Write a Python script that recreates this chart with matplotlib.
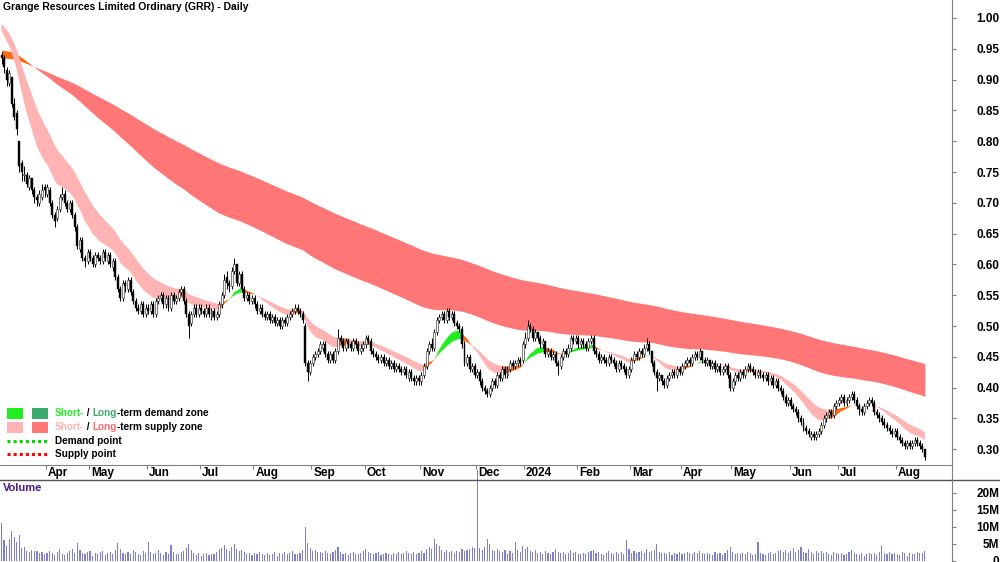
import numpy as np
import pandas as pd
import matplotlib
matplotlib.use("Agg")
import matplotlib.pyplot as plt
from matplotlib.lines import Line2D
from matplotlib.patches import Rectangle

plt.rcParams['font.family'] = ['Liberation Sans', 'DejaVu Sans']

# ---- data (daily bars, Mar 2023 - Aug 2024) ----
start_date = "2023-03-06"
asx_holidays = ["2023-04-07", "2023-04-10", "2023-04-25", "2023-06-12",
                "2023-12-25", "2023-12-26", "2024-01-01", "2024-01-26",
                "2024-03-29", "2024-04-01", "2024-04-25", "2024-06-10"]

opens = [
    0.94, 0.935, 0.915, 0.895, 0.905, 0.86, 0.845, 0.80, 0.765, 0.745, 0.745, 0.725, 0.74, 0.72, 0.71, 0.70, 0.71, 0.725,
    0.715, 0.72, 0.70, 0.68, 0.675, 0.69, 0.71, 0.715, 0.70, 0.69, 0.70, 0.68, 0.66, 0.625, 0.64, 0.61, 0.605, 0.62, 0.61, 0.60,
    0.615, 0.61, 0.605, 0.62, 0.605, 0.615, 0.595, 0.605, 0.58, 0.56, 0.545, 0.57, 0.56, 0.575, 0.555, 0.54,
    0.53, 0.525, 0.535, 0.52, 0.53, 0.525, 0.535, 0.52, 0.54, 0.545, 0.55, 0.535, 0.545, 0.53, 0.55, 0.54, 0.545, 0.555,
    0.56, 0.54, 0.52, 0.505, 0.52, 0.53, 0.52, 0.53, 0.525, 0.52, 0.53, 0.515, 0.525, 0.515, 0.52, 0.535, 0.55, 0.58,
    0.57, 0.565, 0.59, 0.60, 0.57, 0.585, 0.56, 0.545, 0.55, 0.54, 0.545, 0.535, 0.525, 0.53, 0.52, 0.515, 0.52, 0.51,
    0.515, 0.505, 0.51, 0.50, 0.51, 0.505, 0.515, 0.52, 0.525, 0.53, 0.525, 0.52, 0.50, 0.44, 0.425, 0.44, 0.45, 0.455, 0.46,
    0.465, 0.47, 0.455, 0.445, 0.455, 0.445, 0.46, 0.48, 0.475, 0.465, 0.475, 0.47, 0.465, 0.475, 0.47, 0.46, 0.465, 0.47,
    0.48, 0.475, 0.46, 0.455, 0.45, 0.445, 0.45, 0.44, 0.445, 0.435, 0.44, 0.43, 0.435, 0.43, 0.425, 0.43, 0.415, 0.425,
    0.415, 0.41, 0.415, 0.41, 0.42, 0.435, 0.46, 0.47, 0.465, 0.49, 0.51, 0.515, 0.52, 0.51, 0.525, 0.515, 0.52, 0.505,
    0.50, 0.495, 0.47, 0.44, 0.45, 0.43, 0.435, 0.42, 0.425, 0.41, 0.40, 0.395, 0.39, 0.40, 0.41, 0.405, 0.42, 0.415, 0.43,
    0.42, 0.43, 0.44, 0.435, 0.44, 0.445, 0.445, 0.47, 0.48, 0.50, 0.495, 0.48, 0.49, 0.48, 0.47, 0.475, 0.455, 0.46,
    0.45, 0.455, 0.44, 0.435, 0.45, 0.46, 0.455, 0.465, 0.48, 0.475, 0.48, 0.47, 0.475, 0.47, 0.465, 0.475, 0.48, 0.46,
    0.455, 0.445, 0.45, 0.445, 0.44, 0.45, 0.445, 0.44, 0.43, 0.44, 0.435, 0.43, 0.42, 0.43, 0.445, 0.455, 0.45, 0.46,
    0.455, 0.465, 0.47, 0.46, 0.44, 0.425, 0.415, 0.42, 0.41, 0.405, 0.415, 0.42, 0.425, 0.42, 0.43, 0.425, 0.435, 0.44, 0.445,
    0.44, 0.45, 0.455, 0.45, 0.46, 0.445, 0.44, 0.445, 0.435, 0.44, 0.43, 0.435, 0.425, 0.43, 0.435, 0.42, 0.40, 0.41,
    0.42, 0.415, 0.425, 0.42, 0.43, 0.435, 0.43, 0.425, 0.42, 0.425, 0.42, 0.415, 0.42, 0.41, 0.415, 0.405, 0.41, 0.40,
    0.395, 0.385, 0.375, 0.38, 0.37, 0.365, 0.36, 0.35, 0.345, 0.335, 0.33, 0.32, 0.325, 0.32, 0.325, 0.33, 0.34, 0.35,
    0.355, 0.36, 0.355, 0.37, 0.375, 0.38, 0.385, 0.375, 0.38, 0.385, 0.39, 0.38, 0.37, 0.365, 0.36, 0.37, 0.375, 0.38,
    0.375, 0.36, 0.355, 0.35, 0.345, 0.34, 0.335, 0.33, 0.325, 0.33, 0.32, 0.315, 0.31, 0.305, 0.31, 0.305, 0.31, 0.315,
    0.31, 0.305, 0.30,
]
highs = [
    0.945, 0.94, 0.92, 0.915, 0.905, 0.87, 0.85, 0.80, 0.77, 0.76, 0.75, 0.745, 0.74, 0.725, 0.715, 0.72, 0.73, 0.73,
    0.73, 0.725, 0.705, 0.685, 0.695, 0.715, 0.725, 0.72, 0.705, 0.705, 0.705, 0.685, 0.665, 0.645, 0.645, 0.615, 0.625, 0.625,
    0.615, 0.62, 0.62, 0.615, 0.625, 0.625, 0.62, 0.62, 0.61, 0.61, 0.585, 0.565, 0.575, 0.575, 0.58, 0.58, 0.56, 0.545,
    0.535, 0.54, 0.54, 0.535, 0.535, 0.54, 0.54, 0.545, 0.55, 0.555, 0.555, 0.55, 0.55, 0.555, 0.555, 0.55, 0.56, 0.565,
    0.565, 0.545, 0.525, 0.525, 0.535, 0.535, 0.535, 0.535, 0.53, 0.535, 0.535, 0.53, 0.53, 0.525, 0.54, 0.555, 0.585, 0.59,
    0.575, 0.595, 0.61, 0.60, 0.59, 0.59, 0.565, 0.555, 0.555, 0.55, 0.55, 0.54, 0.535, 0.535, 0.525, 0.525, 0.525, 0.52,
    0.52, 0.515, 0.515, 0.515, 0.515, 0.52, 0.525, 0.53, 0.535, 0.535, 0.53, 0.525, 0.505, 0.445, 0.445, 0.455, 0.46, 0.465, 0.475,
    0.475, 0.475, 0.46, 0.46, 0.46, 0.465, 0.495, 0.485, 0.48, 0.48, 0.48, 0.475, 0.48, 0.48, 0.475, 0.47, 0.475, 0.485,
    0.485, 0.48, 0.465, 0.46, 0.455, 0.455, 0.455, 0.45, 0.45, 0.445, 0.445, 0.44, 0.44, 0.435, 0.435, 0.435, 0.43, 0.43,
    0.42, 0.42, 0.42, 0.425, 0.44, 0.465, 0.475, 0.48, 0.495, 0.515, 0.52, 0.525, 0.525, 0.53, 0.53, 0.525, 0.525, 0.51,
    0.505, 0.50, 0.475, 0.455, 0.455, 0.44, 0.44, 0.43, 0.43, 0.415, 0.405, 0.40, 0.405, 0.415, 0.415, 0.425, 0.425, 0.435, 0.435,
    0.435, 0.445, 0.445, 0.445, 0.45, 0.45, 0.475, 0.49, 0.51, 0.505, 0.50, 0.495, 0.49, 0.485, 0.48, 0.475, 0.465, 0.465,
    0.46, 0.46, 0.445, 0.455, 0.465, 0.465, 0.47, 0.485, 0.485, 0.485, 0.485, 0.48, 0.48, 0.475, 0.48, 0.485, 0.485, 0.465,
    0.46, 0.455, 0.455, 0.45, 0.455, 0.455, 0.45, 0.445, 0.445, 0.445, 0.44, 0.435, 0.435, 0.45, 0.46, 0.46, 0.465, 0.465,
    0.47, 0.48, 0.475, 0.46, 0.445, 0.43, 0.425, 0.42, 0.415, 0.42, 0.425, 0.43, 0.43, 0.435, 0.435, 0.44, 0.445, 0.45, 0.45,
    0.455, 0.46, 0.46, 0.465, 0.46, 0.45, 0.45, 0.445, 0.445, 0.445, 0.44, 0.44, 0.435, 0.44, 0.44, 0.425, 0.415, 0.425,
    0.425, 0.43, 0.43, 0.435, 0.44, 0.44, 0.435, 0.43, 0.43, 0.43, 0.425, 0.425, 0.425, 0.42, 0.42, 0.415, 0.415, 0.405,
    0.40, 0.39, 0.385, 0.385, 0.375, 0.37, 0.365, 0.355, 0.35, 0.34, 0.335, 0.33, 0.33, 0.33, 0.335, 0.345, 0.355, 0.36,
    0.365, 0.365, 0.375, 0.38, 0.385, 0.39, 0.39, 0.385, 0.39, 0.395, 0.395, 0.385, 0.375, 0.37, 0.375, 0.38, 0.385, 0.385,
    0.38, 0.365, 0.36, 0.355, 0.35, 0.345, 0.34, 0.335, 0.335, 0.335, 0.325, 0.32, 0.315, 0.315, 0.315, 0.315, 0.32, 0.32,
    0.315, 0.31, 0.30,
]
lows = [
    0.925, 0.91, 0.89, 0.89, 0.855, 0.835, 0.81, 0.75, 0.735, 0.735, 0.725, 0.72, 0.715, 0.70, 0.695, 0.695, 0.705, 0.71,
    0.71, 0.695, 0.675, 0.66, 0.67, 0.685, 0.705, 0.695, 0.685, 0.685, 0.675, 0.655, 0.625, 0.62, 0.605, 0.595, 0.60, 0.605,
    0.595, 0.595, 0.605, 0.60, 0.60, 0.605, 0.60, 0.595, 0.59, 0.575, 0.555, 0.54, 0.54, 0.555, 0.555, 0.55, 0.535, 0.525,
    0.52, 0.52, 0.515, 0.515, 0.52, 0.52, 0.515, 0.515, 0.535, 0.54, 0.53, 0.53, 0.525, 0.525, 0.535, 0.535, 0.54, 0.55,
    0.535, 0.515, 0.48, 0.50, 0.515, 0.515, 0.515, 0.52, 0.515, 0.515, 0.515, 0.51, 0.51, 0.51, 0.515, 0.53, 0.545, 0.56,
    0.555, 0.56, 0.585, 0.565, 0.565, 0.555, 0.54, 0.54, 0.535, 0.535, 0.53, 0.52, 0.52, 0.515, 0.51, 0.51, 0.505, 0.505,
    0.50, 0.50, 0.495, 0.495, 0.50, 0.50, 0.51, 0.515, 0.52, 0.52, 0.515, 0.505, 0.435, 0.41, 0.42, 0.435, 0.445, 0.45, 0.455,
    0.46, 0.45, 0.44, 0.44, 0.44, 0.44, 0.455, 0.47, 0.46, 0.46, 0.465, 0.46, 0.46, 0.465, 0.455, 0.455, 0.46, 0.465,
    0.47, 0.455, 0.45, 0.445, 0.44, 0.44, 0.435, 0.435, 0.43, 0.43, 0.425, 0.425, 0.425, 0.42, 0.42, 0.415, 0.41, 0.41,
    0.405, 0.405, 0.405, 0.405, 0.415, 0.43, 0.455, 0.46, 0.46, 0.485, 0.505, 0.51, 0.505, 0.505, 0.51, 0.51, 0.50, 0.495,
    0.49, 0.465, 0.435, 0.435, 0.425, 0.425, 0.415, 0.415, 0.405, 0.395, 0.39, 0.385, 0.385, 0.395, 0.40, 0.40, 0.41, 0.41, 0.415,
    0.415, 0.425, 0.43, 0.43, 0.435, 0.435, 0.44, 0.465, 0.475, 0.49, 0.475, 0.475, 0.475, 0.465, 0.465, 0.45, 0.45, 0.445,
    0.445, 0.435, 0.42, 0.43, 0.445, 0.45, 0.45, 0.46, 0.47, 0.47, 0.465, 0.465, 0.465, 0.46, 0.46, 0.47, 0.455, 0.45,
    0.44, 0.44, 0.44, 0.435, 0.435, 0.44, 0.435, 0.425, 0.425, 0.43, 0.425, 0.415, 0.415, 0.425, 0.44, 0.445, 0.445, 0.45,
    0.45, 0.46, 0.455, 0.435, 0.42, 0.395, 0.41, 0.405, 0.40, 0.40, 0.41, 0.415, 0.415, 0.415, 0.42, 0.42, 0.43, 0.435, 0.435,
    0.435, 0.445, 0.445, 0.445, 0.44, 0.435, 0.435, 0.43, 0.43, 0.425, 0.425, 0.42, 0.42, 0.425, 0.415, 0.395, 0.395, 0.405,
    0.41, 0.41, 0.415, 0.415, 0.425, 0.425, 0.42, 0.415, 0.415, 0.415, 0.41, 0.41, 0.405, 0.405, 0.40, 0.40, 0.395, 0.39,
    0.38, 0.37, 0.37, 0.365, 0.36, 0.355, 0.345, 0.34, 0.33, 0.325, 0.32, 0.315, 0.315, 0.315, 0.32, 0.325, 0.335, 0.345,
    0.35, 0.35, 0.35, 0.365, 0.37, 0.375, 0.37, 0.37, 0.375, 0.38, 0.375, 0.365, 0.355, 0.355, 0.355, 0.365, 0.37, 0.37,
    0.355, 0.35, 0.345, 0.34, 0.335, 0.33, 0.325, 0.32, 0.32, 0.315, 0.31, 0.305, 0.30, 0.30, 0.30, 0.30, 0.305, 0.305,
    0.30, 0.295, 0.283,
]
closes = [
    0.935, 0.92, 0.90, 0.91, 0.86, 0.84, 0.82, 0.76, 0.75, 0.745, 0.73, 0.74, 0.72, 0.71, 0.705, 0.715, 0.72, 0.72,
    0.725, 0.70, 0.68, 0.67, 0.69, 0.71, 0.715, 0.70, 0.69, 0.70, 0.68, 0.66, 0.63, 0.64, 0.61, 0.605, 0.62, 0.61,
    0.60, 0.615, 0.61, 0.605, 0.62, 0.61, 0.615, 0.60, 0.605, 0.58, 0.56, 0.545, 0.57, 0.565, 0.575, 0.555, 0.54, 0.53,
    0.525, 0.535, 0.52, 0.53, 0.525, 0.535, 0.52, 0.54, 0.545, 0.55, 0.535, 0.545, 0.53, 0.55, 0.54, 0.545, 0.555, 0.56,
    0.54, 0.52, 0.50, 0.52, 0.53, 0.52, 0.53, 0.525, 0.52, 0.53, 0.52, 0.525, 0.515, 0.52, 0.535, 0.55, 0.575, 0.57,
    0.565, 0.59, 0.60, 0.57, 0.585, 0.56, 0.545, 0.55, 0.54, 0.545, 0.535, 0.525, 0.53, 0.52, 0.515, 0.52, 0.51, 0.515,
    0.505, 0.51, 0.50, 0.51, 0.505, 0.515, 0.52, 0.525, 0.53, 0.525, 0.52, 0.51, 0.44, 0.425, 0.44, 0.45, 0.455, 0.46, 0.47,
    0.47, 0.455, 0.445, 0.455, 0.445, 0.46, 0.48, 0.475, 0.465, 0.475, 0.47, 0.465, 0.475, 0.47, 0.46, 0.465, 0.47, 0.48,
    0.475, 0.46, 0.455, 0.45, 0.445, 0.45, 0.44, 0.445, 0.435, 0.44, 0.43, 0.435, 0.43, 0.425, 0.43, 0.42, 0.425, 0.415,
    0.41, 0.415, 0.41, 0.42, 0.435, 0.46, 0.47, 0.465, 0.49, 0.51, 0.515, 0.52, 0.51, 0.525, 0.515, 0.52, 0.505, 0.50,
    0.495, 0.47, 0.44, 0.45, 0.43, 0.435, 0.42, 0.425, 0.41, 0.40, 0.395, 0.39, 0.40, 0.41, 0.405, 0.42, 0.415, 0.43, 0.42,
    0.43, 0.44, 0.435, 0.44, 0.445, 0.44, 0.47, 0.48, 0.50, 0.495, 0.48, 0.49, 0.48, 0.47, 0.475, 0.455, 0.46, 0.45,
    0.455, 0.44, 0.435, 0.45, 0.46, 0.455, 0.465, 0.48, 0.475, 0.48, 0.47, 0.475, 0.47, 0.465, 0.475, 0.48, 0.46, 0.455,
    0.445, 0.45, 0.445, 0.44, 0.45, 0.445, 0.44, 0.43, 0.44, 0.435, 0.43, 0.42, 0.43, 0.445, 0.455, 0.45, 0.46, 0.455,
    0.465, 0.47, 0.46, 0.44, 0.425, 0.415, 0.42, 0.41, 0.405, 0.415, 0.42, 0.425, 0.42, 0.43, 0.425, 0.435, 0.44, 0.445, 0.44,
    0.45, 0.455, 0.45, 0.46, 0.445, 0.44, 0.445, 0.435, 0.44, 0.43, 0.435, 0.425, 0.43, 0.435, 0.42, 0.40, 0.41, 0.42,
    0.415, 0.425, 0.42, 0.43, 0.435, 0.43, 0.425, 0.42, 0.425, 0.42, 0.415, 0.42, 0.41, 0.415, 0.405, 0.41, 0.40, 0.395,
    0.385, 0.375, 0.38, 0.37, 0.365, 0.36, 0.35, 0.345, 0.335, 0.33, 0.325, 0.325, 0.32, 0.325, 0.33, 0.34, 0.35, 0.355,
    0.36, 0.355, 0.37, 0.375, 0.38, 0.385, 0.375, 0.38, 0.385, 0.39, 0.38, 0.37, 0.365, 0.36, 0.37, 0.375, 0.38, 0.375,
    0.36, 0.355, 0.35, 0.345, 0.34, 0.335, 0.33, 0.325, 0.33, 0.32, 0.315, 0.31, 0.305, 0.31, 0.305, 0.31, 0.315, 0.31,
    0.305, 0.30, 0.288,
]
volume_m = [
    11, 6, 4.5, 6.5, 8.8, 7, 5.7, 7.5, 3.7, 4, 3, 2.5, 3.2, 2.8, 3, 2.2, 2.5, 2,
    2.4, 3, 2.2, 1.8, 2.6, 3.4, 2.1, 1.7, 2.3, 2.9, 3.5, 2.4, 5.4, 3.1, 2.2, 1.9, 2.6, 2.8,
    1.6, 2.3, 2, 2.5, 3, 1.8, 2.2, 2.7, 2, 3.3, 5.3, 3.6, 2.4, 2.1, 2.6, 1.9, 3.2, 2.5,
    2, 1.7, 2.8, 2.3, 5.5, 2.5, 1.9, 2.4, 3.1, 2.2, 1.8, 2.6, 2, 4.8, 2.7, 2.1, 1.9, 2.5,
    3, 3.8, 5, 3.2, 2.3, 1.8, 2.2, 1.6, 2, 2.4, 1.7, 2.1, 1.9, 2.6, 3.4, 3.9, 4.6, 3.5,
    3, 4.2, 5, 3.6, 2.8, 3.3, 2.5, 2.1, 2.4, 1.8, 2.2, 1.9, 2.6, 2, 1.7, 2.3, 1.8, 2.1,
    2.5, 1.6, 2.2, 1.9, 2.7, 2, 2.3, 2.8, 2.1, 1.9, 2.4, 3.1, 10, 5.2, 3.8, 2.9, 3.3, 2.5, 2.7,
    2.2, 3, 2.4, 1.9, 2.6, 3.2, 4.1, 2.5, 2, 2.3, 1.8, 2.2, 2.6, 1.9, 2.1, 2.4, 2.8, 3.5,
    2.6, 2.3, 1.9, 2.2, 2.5, 1.8, 2, 2.4, 2.1, 1.7, 2.3, 2, 2.6, 1.9, 2.2, 2.8, 2.4, 2.1,
    2.5, 1.9, 2.3, 2.8, 2.4, 3.4, 4.2, 3.6, 6.5, 5, 4.4, 3.1, 2.7, 3.3, 2.6, 2.9, 2.4, 3,
    2.6, 3.5, 2.8, 3.1, 3.4, 4, 3.8, 26.5, 3.8, 3.2, 4.1, 6.5, 5, 3.3, 2.9, 3.6, 2.8, 2.5, 3.1,
    2.1, 2.8, 2.4, 5.5, 3.1, 2.6, 4.5, 3.4, 4, 2.9, 2.5, 3.2, 2.2, 2.6, 2.1, 2.9, 2.3, 1.9,
    2.5, 3.4, 2.7, 2.2, 2.6, 2, 2.4, 3.1, 2.3, 2.7, 2.1, 1.9, 2.4, 2, 2.6, 2.9, 3.2, 2.3,
    2.6, 2.1, 1.8, 2.4, 2.9, 2.2, 1.9, 2.5, 2.1, 2.7, 2, 6, 3.5, 2.4, 2.8, 2.2, 2.6, 3,
    2.3, 3.6, 2.5, 2.9, 3.3, 5, 2.7, 2.2, 2.4, 2, 2.6, 1.8, 2.3, 2.1, 2.5, 1.9, 2.2, 2.7, 2.4,
    2, 2.6, 2.2, 2.9, 2.4, 1.9, 2.3, 2.1, 1.8, 2.5, 2, 2.3, 1.7, 2.2, 3.1, 4.2, 2.6, 2.1,
    2.4, 1.9, 2.2, 2, 2.7, 2.3, 1.8, 2.1, 5.5, 2.4, 2, 1.7, 2.3, 2.6, 1.9, 2.2, 2.8, 3.2,
    2.6, 3.3, 2.4, 2.9, 3.8, 2.5, 3.1, 4, 2.7, 2.2, 3.4, 2.6, 2.1, 2.8, 2.3, 3, 2.4, 2.7,
    2, 1.8, 2.6, 2.2, 1.9, 2.4, 1.7, 2.1, 2.5, 3.2, 2.3, 2, 1.8, 2.2, 1.6, 2.1, 2.4, 1.9,
    2.3, 1.8, 2.6, 4.5, 2.2, 2, 2.7, 1.9, 2.4, 2.1, 1.8, 2.5, 2.2, 1.6, 2.3, 2, 1.9, 2.6,
    2.2, 2.4, 3,
]

# zone settings (EMA periods) and the band levels at the first bar
short_periods = (15, 28)
long_periods = (130, 240)
short_start = (0.985, 0.995)
long_start = (0.948, 0.935)

lens = [len(opens), len(highs), len(lows), len(closes), len(volume_m)]
assert len(set(lens)) == 1, lens

n = len(closes)
dates = pd.bdate_range(start_date, periods=n, freq="C", holidays=asx_holidays)
o = np.array(opens)
h = np.array(highs)
l = np.array(lows)
c = np.array(closes)
x = np.arange(n)


def ema(values, period, first):
    a = 2.0 / (period + 1)
    e = first
    out = []
    for v in values:
        e = e + a * (v - e)
        out.append(e)
    return np.array(out)


def zone_state(fast, slow, close):
    bull = fast > slow
    above = close > (fast + slow) / 2
    return np.where(bull & above, 2, np.where(~bull & ~above, 0, 1))


def draw_band(ax, fast, slow, close, colors, z):
    state = zone_state(fast, slow, close)
    for s, col in colors.items():
        m = state == s
        ext = m.copy()
        ext[1:] |= m[:-1]
        ax.fill_between(x, fast, slow, where=ext, color=col, lw=0, zorder=z)


ORANGE = "#FF6A10"
W, H = 1000, 562
fig = plt.figure(figsize=(10, 5.62), dpi=100)
ax = fig.add_axes([0, 1 - 465 / H, 952 / W, 465 / H])
axv = fig.add_axes([0, 0, 952 / W, 82 / H])

# bands
lf = ema(c, long_periods[0], long_start[0])
ls = ema(c, long_periods[1], long_start[1])
draw_band(ax, lf, ls, c, {0: "#FF7676", 1: ORANGE, 2: "#3CAA6E"}, 1)
sf = ema(c, short_periods[0], short_start[0])
ss = ema(c, short_periods[1], short_start[1])
draw_band(ax, sf, ss, c, {0: "#FFB3B3", 1: ORANGE, 2: "#22EE22"}, 2)

# candles
up = c >= o
ax.vlines(x, np.minimum(l, np.minimum(o, c)), np.maximum(h, np.maximum(o, c)),
          color="black", lw=0.7, zorder=3)
body_lo = np.minimum(o, c)
body_h = np.maximum(np.abs(c - o), 0.0015)
ax.bar(x[up], body_h[up], bottom=body_lo[up], width=0.78, color="white",
       edgecolor="#333333", lw=0.45, zorder=4)
ax.bar(x[~up], body_h[~up], bottom=body_lo[~up], width=0.78, color="black",
       edgecolor="black", lw=0.3, zorder=4)

ax.set_xlim(-0.6, 375.7)
ax.set_ylim(0.2744, 1.0292)

# month ticks
month_pos = []
month_lab = []
for i in range(1, n):
    if dates[i].month != dates[i - 1].month:
        month_pos.append(i - 2.5)
        month_lab.append("2024" if dates[i].month == 1 else dates[i].strftime("%b"))
ax.set_xticks(month_pos)
ax.set_xticklabels([])
ax.tick_params(axis="x", length=3, color="#808080", direction="out")
for p, lab in zip(month_pos, month_lab):
    ax.text(p + 0.8, -0.017, lab, transform=ax.get_xaxis_transform(), ha="left",
            va="center", fontsize=8.5, fontweight="bold")

ax.yaxis.tick_right()
ax.set_yticks(np.arange(0.30, 1.001, 0.05))
ax.set_yticklabels([f"{v:.2f}" for v in np.arange(0.30, 1.001, 0.05)])
ax.tick_params(axis="y", length=3, color="#808080", pad=31, labelsize=8.5)
for t in ax.get_yticklabels():
    t.set_ha("right")
    t.set_fontweight("bold")
for s in ["top", "left"]:
    ax.spines[s].set_visible(False)
for s in ["right", "bottom"]:
    ax.spines[s].set_color("#808080")

# volume
axv.bar(x, np.array(volume_m) * 1e6, width=0.45, color="#7F7FCF", zorder=2,
        clip_on=False)
axv.set_xlim(-0.6, 375.7)
axv.set_ylim(-0.3e6, 23.7e6)
axv.set_xticks([])
axv.yaxis.tick_right()
axv.set_yticks([0, 5e6, 10e6, 15e6, 20e6])
axv.set_yticklabels(["0", "5M", "10M", "15M", "20M"])
axv.tick_params(axis="y", length=3, color="#808080", pad=31, labelsize=8.5)
for t in axv.get_yticklabels():
    t.set_ha("right")
    t.set_fontweight("bold")
for s in ["top", "left", "bottom"]:
    axv.spines[s].set_visible(False)
axv.spines["right"].set_color("#808080")
axv.text(0.003, 0.9, "Volume", transform=axv.transAxes, fontsize=8,
         fontweight="bold", color="#4B1A8B", va="center", ha="left")

# frame lines between panels
fig.add_artist(Line2D([0, 1], [1 - 480 / H] * 2, color="#555555", lw=1, zorder=1))
fig.add_artist(Line2D([952 / W] * 2, [1 - 465 / H, 1 - 480 / H], color="#808080", lw=0.8))

# title
fig.text(3 / W, 1 - 7 / H, "Grange Resources Limited Ordinary (GRR) - Daily",
         fontsize=7.5, fontweight="bold", va="center", ha="left")

# legend
for (x0, y0, col) in [(7, 408, "#22EE22"), (32, 408, "#3CAA6E"),
                      (7, 422, "#FFB3B3"), (32, 422, "#FF7676")]:
    fig.add_artist(Rectangle((x0 / W, 1 - (y0 + 11) / H), 16 / W, 11 / H,
                             transform=fig.transFigure, color=col, lw=0))
fig.add_artist(Line2D([7 / W, 48 / W], [1 - 441 / H] * 2, color="#00DD00",
                      lw=2.2, ls=(0, (1, 1))))
fig.add_artist(Line2D([7 / W, 48 / W], [1 - 454 / H] * 2, color="#FF0000",
                      lw=2.2, ls=(0, (1, 1))))

renderer = fig.canvas.get_renderer()


def text_run(x_px, y_px, pieces):
    for s, col in pieces:
        t = fig.text(x_px / W, 1 - y_px / H, s, color=col, fontsize=7.2,
                     fontweight="bold", va="center", ha="left")
        x_px += t.get_window_extent(renderer=renderer).width


text_run(55, 413, [("Short-", "#22EE22"), (" / ", "black"), ("Long", "#3CAA6E"),
                   ("-term demand zone", "black")])
text_run(55, 427, [("Short-", "#FFB3B3"), (" / ", "black"), ("Long", "#FF6B6B"),
                   ("-term supply zone", "black")])
text_run(55, 441, [("Demand point", "black")])
text_run(55, 454, [("Supply point", "black")])

fig.savefig("out.png", dpi=100)
